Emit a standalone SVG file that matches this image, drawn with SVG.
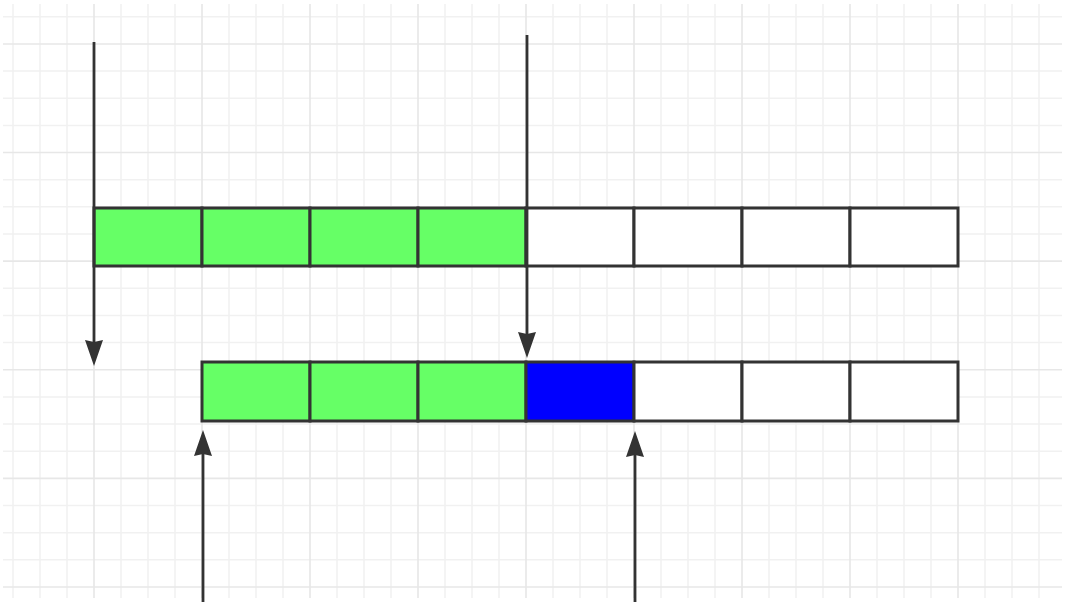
<svg xmlns="http://www.w3.org/2000/svg" width="1065" height="602" viewBox="0 0 1065 602">
  <style>
    .minor { stroke: #f1f1f1; stroke-width: 1.5; fill: none; }
    .major { stroke: #e7e7e7; stroke-width: 1.6; fill: none; }
    .cell { stroke: #333333; stroke-width: 3; }
    .used { fill: #66ff66; }
    .cur { fill: #0000ff; }
    .free { fill: #ffffff; }
    .ptr { stroke: #333333; stroke-width: 2.8; fill: none; marker-end: url(#head); }
  </style>
  <defs>
    <marker id="head" viewBox="0 0 26 18" refX="12" refY="9" markerWidth="26" markerHeight="18" markerUnits="userSpaceOnUse" orient="auto">
      <path d="M0,0 L26,9 L0,18 L2,9 Z" fill="#333333"/>
    </marker>
  </defs>

  <rect width="1065" height="602" fill="#ffffff"/>

  <!-- background grid -->
  <g id="grid">
    <path class="minor" d="
      M13,4V598 M40,4V598 M67,4V598 M121,4V598 M148,4V598 M175,4V598
      M229,4V598 M256,4V598 M283,4V598 M337,4V598 M364,4V598 M391,4V598
      M445,4V598 M472,4V598 M499,4V598 M553,4V598 M580,4V598 M607,4V598
      M661,4V598 M688,4V598 M715,4V598 M769,4V598 M796,4V598 M823,4V598
      M877,4V598 M904,4V598 M931,4V598 M985,4V598 M1012,4V598 M1039,4V598
      M3,16.8H1062 M3,71.1H1062 M3,98.25H1062 M3,125.4H1062
      M3,179.7H1062 M3,206.85H1062 M3,234H1062
      M3,288.3H1062 M3,315.45H1062 M3,342.6H1062
      M3,396.9H1062 M3,424.05H1062 M3,451.2H1062
      M3,505.5H1062 M3,532.65H1062 M3,559.8H1062"/>
    <path class="major" d="
      M94,4V598 M202,4V598 M310,4V598 M418,4V598 M526,4V598
      M634,4V598 M742,4V598 M850,4V598 M958,4V598
      M3,43.95H1062 M3,152.55H1062 M3,261.15H1062 M3,369.75H1062
      M3,478.35H1062 M3,586.95H1062"/>
  </g>

  <!-- first row: four used slots, four free -->
  <g id="row1">
    <rect id="r1c1" class="cell used" x="94" y="208" width="108" height="58"/>
    <rect id="r1c2" class="cell used" x="202" y="208" width="108" height="58"/>
    <rect id="r1c3" class="cell used" x="310" y="208" width="108" height="58"/>
    <rect id="r1c4" class="cell used" x="418" y="208" width="108" height="58"/>
    <rect id="r1c5" class="cell free" x="526" y="208" width="108" height="58"/>
    <rect id="r1c6" class="cell free" x="634" y="208" width="108" height="58"/>
    <rect id="r1c7" class="cell free" x="742" y="208" width="108" height="58"/>
    <rect id="r1c8" class="cell free" x="850" y="208" width="108" height="58"/>
  </g>

  <!-- second row: shifted by one slot, new element in blue -->
  <g id="row2">
    <rect id="r2c2" class="cell used" x="202" y="362" width="108" height="59"/>
    <rect id="r2c3" class="cell used" x="310" y="362" width="108" height="59"/>
    <rect id="r2c4" class="cell used" x="418" y="362" width="108" height="59"/>
    <rect id="r2c5" class="cell cur" x="526" y="362" width="108" height="59"/>
    <rect id="r2c6" class="cell free" x="634" y="362" width="108" height="59"/>
    <rect id="r2c7" class="cell free" x="742" y="362" width="108" height="59"/>
    <rect id="r2c8" class="cell free" x="850" y="362" width="108" height="59"/>
  </g>

  <!-- pointer arrows -->
  <g id="connectors">
    <line class="ptr" x1="94" y1="42" x2="94" y2="352"/>
    <line class="ptr" x1="527" y1="35" x2="527" y2="344"/>
    <line class="ptr" x1="203" y1="602" x2="203" y2="444"/>
    <line class="ptr" x1="635" y1="602" x2="635" y2="445"/>
  </g>
</svg>
